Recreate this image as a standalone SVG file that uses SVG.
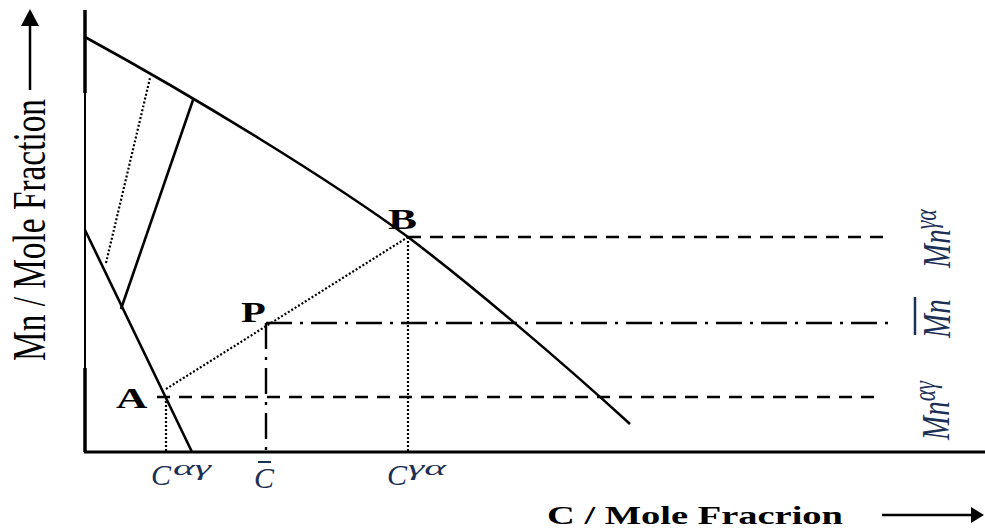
<svg xmlns="http://www.w3.org/2000/svg" width="985" height="530" viewBox="0 0 985 530">
<style>
.solid{stroke:#000;stroke-width:2.6;fill:none;stroke-linecap:butt}
.dot{stroke:#000;stroke-width:2.2;stroke-dasharray:2 2;fill:none}
.dash{stroke:#000;stroke-width:2.4;stroke-dasharray:13 9;fill:none}
.dashdot{stroke:#000;stroke-width:2.4;stroke-dasharray:26 8 3 8;fill:none}
.pt{font-family:"Liberation Serif",serif;font-weight:bold;font-size:30px;fill:#000}
.axl{font-family:"Liberation Serif",serif;fill:#000}
.math{font-family:"Liberation Serif",serif;font-style:italic;fill:#1c2f55}
.ah{fill:#000}
</style>
<rect width="985" height="530" fill="#fff"/>
<g id="axes">
  <line x1="85" y1="10" x2="85" y2="452" stroke="#000" stroke-width="2"/>
  <line x1="85" y1="10" x2="85" y2="93" stroke="#000" stroke-width="3.5"/>
  <line x1="85" y1="368" x2="85" y2="452" stroke="#000" stroke-width="3.5"/>
  <line x1="84" y1="452" x2="985" y2="452" stroke="#000" stroke-width="3"/>
</g>
<g id="curves">
  <path class="solid" d="M85,37 C200,100 330,180 408,237 C470,284 560,360 630,424"/>
  <line class="solid" x1="85" y1="230" x2="192" y2="452"/>
  <line class="solid" x1="121" y1="309" x2="193" y2="100"/>
  <line class="dot" x1="106" y1="263" x2="150" y2="78"/>
</g>
<g id="connectors">
  <line class="dot" x1="166" y1="389" x2="408" y2="237"/>
  <line class="dot" x1="166" y1="397" x2="166" y2="452"/>
  <line class="dot" x1="408" y1="237" x2="408" y2="452"/>
  <line class="dash" x1="157" y1="397" x2="878" y2="397"/>
  <line class="dash" x1="408" y1="237" x2="890" y2="237"/>
  <line class="dashdot" x1="266" y1="323" x2="888" y2="323"/>
  <line class="dashdot" x1="266" y1="323" x2="266" y2="452"/>
</g>
<g id="point-A"><text class="pt" transform="translate(116,408) scale(1.45,1)">A</text></g>
<g id="point-P"><text class="pt" transform="translate(241,322) scale(1.35,1)">P</text></g>
<g id="point-B"><text class="pt" transform="translate(388,229) scale(1.45,1)">B</text></g>
<g id="y-label">
  <text class="axl" font-size="31" transform="translate(45,361) scale(1.5,1) rotate(-90)" textLength="262" lengthAdjust="spacingAndGlyphs">Mn / Mole Fraction</text>
  <line x1="30" y1="90" x2="30" y2="24" stroke="#000" stroke-width="2.5"/>
  <polygon class="ah" points="30,9 21,26 39,26"/>
</g>
<g id="x-label">
  <text class="axl" font-size="26" font-weight="bold" x="547" y="524" textLength="296" lengthAdjust="spacingAndGlyphs">C / Mole Fracrion</text>
  <line x1="882" y1="515" x2="973" y2="515" stroke="#000" stroke-width="2.5"/>
  <polygon class="ah" points="984,515 971,507 971,523"/>
</g>
<g id="label-C-ag">
  <text class="math" font-size="30" x="151" y="485">C</text>
  <text class="math" font-size="21" x="173" y="475" textLength="38" lengthAdjust="spacingAndGlyphs">αγ</text>
</g>
<g id="label-C-bar">
  <text class="math" font-size="30" x="254" y="488">C</text>
  <line x1="258" y1="462" x2="271" y2="462" stroke="#1c2f55" stroke-width="2"/>
</g>
<g id="label-C-ga">
  <text class="math" font-size="30" x="387" y="485">C</text>
  <text class="math" font-size="21" x="408" y="475" textLength="38" lengthAdjust="spacingAndGlyphs">γα</text>
</g>
<g id="label-Mn-ga">
  <text class="math" font-size="29" transform="translate(950,268) scale(1.4,1) rotate(-90)">Mn<tspan font-size="22" dy="-10">γα</tspan></text>
</g>
<g id="label-Mn-bar">
  <text class="math" font-size="29" transform="translate(950,338) scale(1.4,1) rotate(-90)">Mn</text>
  <line x1="915" y1="297" x2="915" y2="335" stroke="#1c2f55" stroke-width="2.5"/>
</g>
<g id="label-Mn-ag">
  <text class="math" font-size="29" transform="translate(949,440) scale(1.4,1) rotate(-90)">Mn<tspan font-size="22" dy="-10">αγ</tspan></text>
</g>
</svg>
